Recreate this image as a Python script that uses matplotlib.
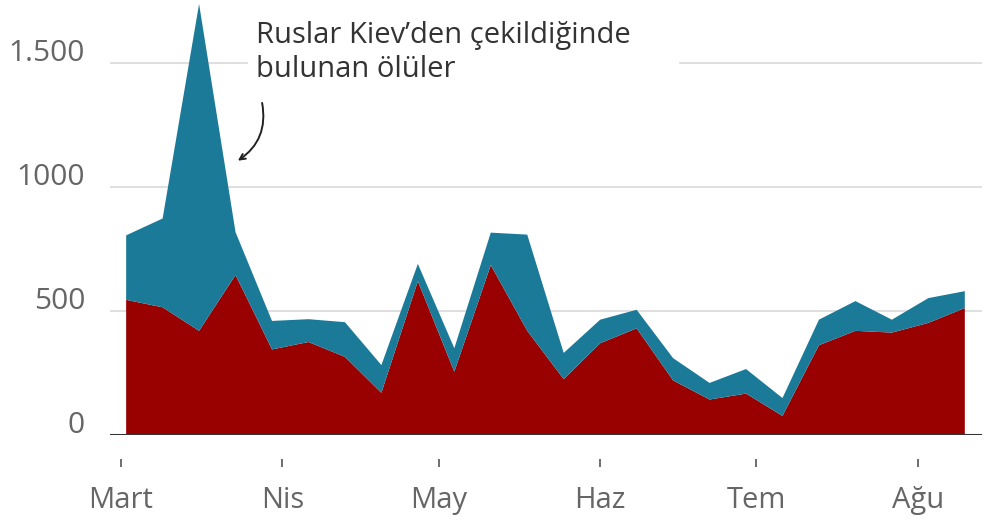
import matplotlib
matplotlib.use("Agg")
import matplotlib.pyplot as plt
import matplotlib.dates as mdates
import matplotlib.transforms as mtransforms
import numpy as np

# Weekly counts
dates = ['2022-03-02', '2022-03-09', '2022-03-16', '2022-03-23', '2022-03-30',
         '2022-04-06', '2022-04-13', '2022-04-20', '2022-04-27', '2022-05-04',
         '2022-05-11', '2022-05-18', '2022-05-25', '2022-06-01', '2022-06-08',
         '2022-06-15', '2022-06-22', '2022-06-29', '2022-07-06', '2022-07-13',
         '2022-07-20', '2022-07-27', '2022-08-03', '2022-08-10']
red_vals = [545, 515, 420, 645, 345, 375, 315, 170, 620, 255, 685, 420,
            225, 370, 430, 220, 143, 167, 77, 362, 420, 413, 452, 512]
blue_vals = [260, 358, 1318, 173, 115, 92, 140, 112, 70, 95, 131, 388,
             106, 95, 75, 90, 67, 99, 72, 103, 120, 52, 100, 68]

month_ticks = ['2022-03-01', '2022-04-01', '2022-05-01', '2022-06-01',
               '2022-07-01', '2022-08-01']
month_labels = ['Mart', 'Nis', 'May', 'Haz', 'Tem', 'Ağu']
y_ticks = [0, 500, 1000, 1500]
y_labels = ['0', '500', '1000', '1.500']

RED = '#990000'
BLUE = '#1c7a99'
GREY_TXT = '#666666'

plt.rcParams['font.family'] = ['Open Sans', 'DejaVu Sans']

x = mdates.datestr2num(dates)
xt = mdates.datestr2num(month_ticks)

fig = plt.figure(figsize=(9.98, 5.23), dpi=100)
ax = fig.add_axes([110 / 998, 88 / 523, 872 / 998, 434 / 523])

ax.stackplot(x, red_vals, blue_vals, colors=[RED, BLUE], linewidth=0)

ax.set_xlim(mdates.datestr2num('2022-02-26') + 0.9, mdates.datestr2num('2022-08-13') + 0.3)
ax.set_ylim(0, 1750)

# grid
for yv in y_ticks[1:]:
    ax.axhline(yv, color='#d9d9d9', lw=1.2, zorder=0)
ax.axhline(0, color='#333333', lw=2.2, zorder=3)

for s in ax.spines.values():
    s.set_visible(False)
ax.spines['bottom'].set_position(('outward', 17))

ax.set_yticks(y_ticks)
ax.set_yticklabels(y_labels, fontsize=21.5, color=GREY_TXT)
ax.tick_params(axis='y', length=0, pad=18)
offset = mtransforms.ScaledTranslation(0, 13 / 100, fig.dpi_scale_trans)
for lab in ax.get_yticklabels():
    lab.set_transform(lab.get_transform() + offset)

ax.set_xticks(xt)
ax.set_xticklabels(month_labels, fontsize=21, color=GREY_TXT)
ax.tick_params(axis='x', length=6, width=1.2, color='#555555', pad=14)

# annotation with white box that cuts the 1.500 gridline
ax.axhspan(1460, 1540, xmin=(248 - 110) / 872, xmax=(678 - 110) / 872,
           color='white', zorder=1)
ax.text(mdates.datestr2num('2022-03-27'), 1670, 'Ruslar Kiev\u2019den çekildiğinde\nbulunan ölüler',
        fontsize=21, color='#333333', va='top', ha='left', linespacing=1.22,
        zorder=4)

ax.annotate('', xy=(mdates.datestr2num('2022-03-23'), 1100),
            xytext=(mdates.datestr2num('2022-03-28'), 1350),
            arrowprops=dict(arrowstyle='->', color='#222222', lw=1.4,
                            connectionstyle='arc3,rad=-0.35'), zorder=5)

fig.savefig('out.png', dpi=100)
